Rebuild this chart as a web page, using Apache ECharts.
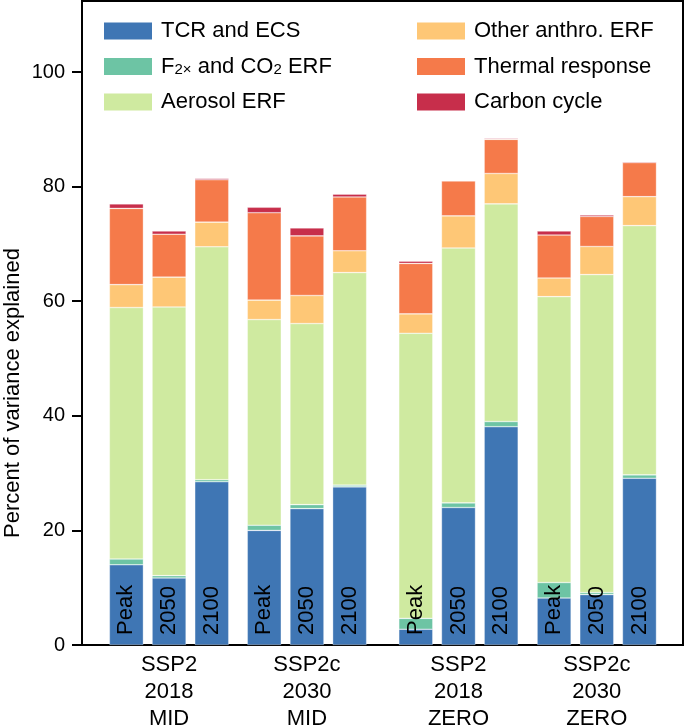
<!DOCTYPE html>
<html>
<head>
<meta charset="utf-8">
<script src="https://cdn.jsdelivr.net/npm/echarts@6/dist/echarts.min.js"></script>
<style>
  html, body { margin: 0; padding: 0; background: #fff; }
  #chart { width: 685px; height: 728px; }
</style>
</head>
<body>
<div id="chart"></div>
<script>
// group labels and their centre position on the x axis
var groupNames = ['SSP2\n2018\nMID', 'SSP2c\n2030\nMID', 'SSP2\n2018\nZERO', 'SSP2c\n2030\nZERO'];
var groupCenters = [1, 4.23, 7.78, 11.02];
var barNames = ['Peak', '2050', '2100'];

// percent of variance explained, 12 bars (group x year)
var tcrEcs      = [14.0, 11.7, 28.5, 20.0, 23.8, 27.6, 2.75, 24.0, 38.1, 8.2, 8.8, 29.1];
var f2xCo2      = [1.0, 0.4, 0.35, 0.9, 0.7, 0.3, 1.9, 0.8, 0.9, 2.7, 0.35, 0.6];
var aerosol     = [43.9, 46.9, 40.65, 35.9, 31.6, 37.1, 49.75, 44.5, 38.0, 49.9, 55.5, 43.5];
var otherAnthro = [4.0, 5.2, 4.3, 3.4, 4.9, 3.8, 3.4, 5.6, 5.3, 3.25, 4.9, 5.05];
var thermal     = [13.3, 7.5, 7.4, 15.25, 10.4, 9.4, 8.8, 6.1, 5.95, 7.5, 5.25, 5.95];
var carbonCycle = [0.8, 0.55, 0.25, 0.95, 1.4, 0.5, 0.4, 0.1, 0.15, 0.7, 0.25, 0.15];

var yTicks = [0, 20, 40, 60, 80, 100];

var colors = ['#3f76b4', '#6dc4a4', '#cfeaa0', '#fec776', '#f57a4a', '#c72e4b'];
var seriesNames = ['TCR and ECS', 'F2x and CO2 ERF', 'Aerosol ERF', 'Other anthro. ERF', 'Thermal response', 'Carbon cycle'];
var seriesData = [tcrEcs, f2xCo2, aerosol, otherAnthro, thermal, carbonCycle];

// x position of every bar: group centre + offset of the year in the group
var xPos = [];
for (var g = 0; g < groupCenters.length; g++) {
    for (var b = 0; b < barNames.length; b++) {
        xPos.push(groupCenters[g] + (b - 1));
    }
}

var font = 'Liberation Sans, Arial, Helvetica, sans-serif';

var series = seriesData.map(function (vals, i) {
    var s = {
        name: seriesNames[i],
        type: 'bar',
        stack: 'total',
        barWidth: 34,
        // value first so that the stack is done on y
        encode: { x: 1, y: 0 },
        itemStyle: {
            color: colors[i],
            borderColor: 'rgba(255,255,255,0.55)',
            borderWidth: 0.6
        },
        data: vals.map(function (v, k) { return [v, xPos[k]]; })
    };
    if (i === 0) {
        s.label = {
            show: true,
            position: 'insideBottom',
            distance: 10,
            rotate: 90,
            align: 'left',
            verticalAlign: 'middle',
            fontFamily: font,
            fontSize: 22,
            color: '#000',
            formatter: function (p) { return barNames[p.dataIndex % 3]; }
        };
    }
    return s;
});

var legendText = {
    fontFamily: font,
    fontSize: 22,
    lineHeight: 22,
    color: '#000',
    padding: [0, 0, 0, 4],
    rich: {
        sub: { fontFamily: font, fontSize: 15, lineHeight: 6, verticalAlign: 'bottom' }
    }
};

var chart = echarts.init(document.getElementById('chart'));
chart.setOption({
    animation: false,
    backgroundColor: '#fff',
    grid: {
        left: 82, right: 2, top: 1, bottom: 83,
        outerBoundsMode: 'none',
        containLabel: false,
        show: true, borderColor: '#000', borderWidth: 2
    },
    legend: [{
        data: seriesNames.slice(0, 3),
        orient: 'vertical',
        left: 104, top: 20, padding: 0,
        itemWidth: 48, itemHeight: 17, itemGap: 13.5,
        icon: 'rect',
        selectedMode: false,
        itemStyle: { borderWidth: 0 },
        textStyle: legendText,
        formatter: function (name) {
            if (name === 'F2x and CO2 ERF') return 'F{sub|2×} and CO{sub|2} ERF';
            return name;
        }
    }, {
        data: seriesNames.slice(3),
        orient: 'vertical',
        left: 417, top: 20, padding: 0,
        itemWidth: 48, itemHeight: 17, itemGap: 13.5,
        icon: 'rect',
        selectedMode: false,
        itemStyle: { borderWidth: 0 },
        textStyle: legendText
    }],
    xAxis: {
        type: 'value',
        min: -1.04,
        max: 13.04,
        splitLine: { show: false },
        axisLine: { onZero: false, lineStyle: { color: '#000', width: 2 } },
        axisTick: { show: false },
        axisLabel: {
            customValues: groupCenters,
            formatter: function (v) {
                var best = 0;
                for (var i = 1; i < groupCenters.length; i++) {
                    if (Math.abs(groupCenters[i] - v) < Math.abs(groupCenters[best] - v)) best = i;
                }
                return groupNames[best];
            },
            fontFamily: font,
            fontSize: 22,
            lineHeight: 26.7,
            color: '#000',
            margin: 7
        }
    },
    yAxis: {
        type: 'value',
        min: 0,
        max: 112.4,
        interval: 20,
        splitLine: { show: false },
        axisLine: { show: true, onZero: false, lineStyle: { color: '#000', width: 2 } },
        axisTick: { show: true, customValues: yTicks, length: 10, lineStyle: { color: '#000', width: 2 } },
        axisLabel: {
            customValues: yTicks,
            fontFamily: font,
            fontSize: 20,
            color: '#000',
            margin: 17
        }
    },
    graphic: [{
        type: 'text',
        x: 13,
        y: 393,
        rotation: Math.PI / 2,
        style: {
            text: 'Percent of variance explained',
            fontFamily: font,
            fontSize: 22,
            fill: '#000',
            align: 'center',
            verticalAlign: 'middle'
        }
    }],
    series: series
});
</script>
</body>
</html>
